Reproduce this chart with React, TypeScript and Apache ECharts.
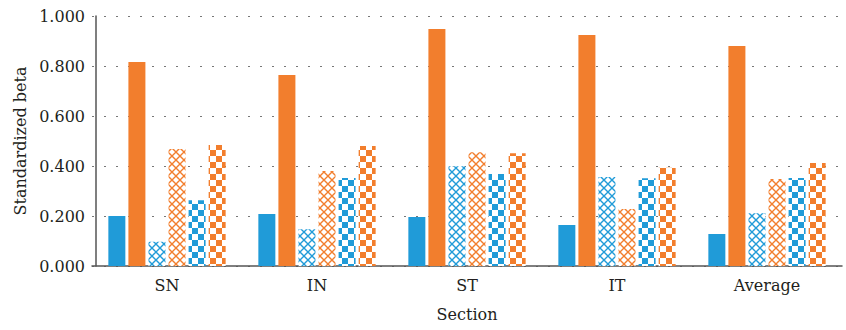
import React, { useEffect, useRef } from "react";
import * as echarts from "echarts";

const categories = ["SN", "IN", "ST", "IT", "Average"];
const blueSolid = [0.2, 0.208, 0.196, 0.164, 0.128];
const orangeSolid = [0.816, 0.764, 0.948, 0.924, 0.88];
const blueCross = [0.097, 0.147, 0.399, 0.356, 0.211];
const orangeCross = [0.468, 0.38, 0.455, 0.228, 0.348];
const blueCheck = [0.263, 0.352, 0.368, 0.351, 0.352];
const orangeCheck = [0.484, 0.48, 0.451, 0.393, 0.412];
const yTicks = [0, 0.2, 0.4, 0.6, 0.8, 1.0];

const BLUE = "#209BD8";
const ORANGE = "#F27E2D";

function crossPattern(color: string) {
  const c = document.createElement("canvas");
  c.width = 8;
  c.height = 8;
  const g = c.getContext("2d")!;
  g.fillStyle = "#ffffff";
  g.fillRect(0, 0, 8, 8);
  g.strokeStyle = color;
  g.lineWidth = 1.4;
  g.beginPath();
  g.moveTo(-1, -1);
  g.lineTo(9, 9);
  g.moveTo(9, -1);
  g.lineTo(-1, 9);
  g.stroke();
  return { image: c.toDataURL(), repeat: "repeat", imageWidth: 8, imageHeight: 8 };
}

function checkPattern(color: string) {
  const c = document.createElement("canvas");
  c.width = 12;
  c.height = 12;
  const g = c.getContext("2d")!;
  g.fillStyle = "#ffffff";
  g.fillRect(0, 0, 12, 12);
  g.fillStyle = color;
  g.fillRect(0, 0, 6, 6);
  g.fillRect(6, 6, 6, 6);
  return { image: c.toDataURL(), repeat: "repeat", imageWidth: 12, imageHeight: 12 };
}

export default function App() {
  const ref = useRef<HTMLDivElement>(null);
  useEffect(() => {
    if (!ref.current) return;
    const chart = echarts.init(ref.current, undefined, { renderer: "svg" });
    const font = "DejaVu Serif";
    const mk = (data: number[], color: any) => ({
      type: "bar",
      data,
      barWidth: 17,
      barGap: "18%",
      itemStyle: { color },
    });
    chart.setOption({
      animation: false,
      grid: { left: 92, right: 4, top: 16, bottom: 64 },
      xAxis: {
        type: "category",
        data: categories,
        name: "Section",
        nameLocation: "middle",
        nameGap: 40,
        nameTextStyle: { fontFamily: font, fontSize: 16, color: "#231f20" },
        axisLine: { lineStyle: { color: "#555", width: 1.5 } },
        axisTick: { show: false },
        axisLabel: { fontFamily: font, fontSize: 16, color: "#231f20", margin: 11 },
      },
      yAxis: {
        type: "value",
        min: yTicks[0],
        max: yTicks[yTicks.length - 1],
        interval: 0.2,
        offset: -4,
        name: "Standardized beta",
        nameLocation: "middle",
        nameGap: 62,
        nameTextStyle: { fontFamily: font, fontSize: 16, color: "#231f20" },
        axisLine: { show: true, lineStyle: { color: "#555", width: 1.5 } },
        axisTick: { show: false },
        axisLabel: {
          fontFamily: font,
          fontSize: 16,
          color: "#231f20",
          margin: 11,
          formatter: (v: number) => v.toFixed(3),
        },
        splitLine: { lineStyle: { color: "#777", type: [2, 10], width: 1.2 } },
      },
      series: [
        mk(blueSolid, BLUE),
        mk(orangeSolid, ORANGE),
        mk(blueCross, crossPattern(BLUE)),
        mk(orangeCross, crossPattern(ORANGE)),
        mk(blueCheck, checkPattern(BLUE)),
        mk(orangeCheck, checkPattern(ORANGE)),
      ],
    });
    return () => chart.dispose();
  }, []);
  return <div ref={ref} style={{ width: 846, height: 330, position: "absolute", left: 0, top: 0 }} />;
}
